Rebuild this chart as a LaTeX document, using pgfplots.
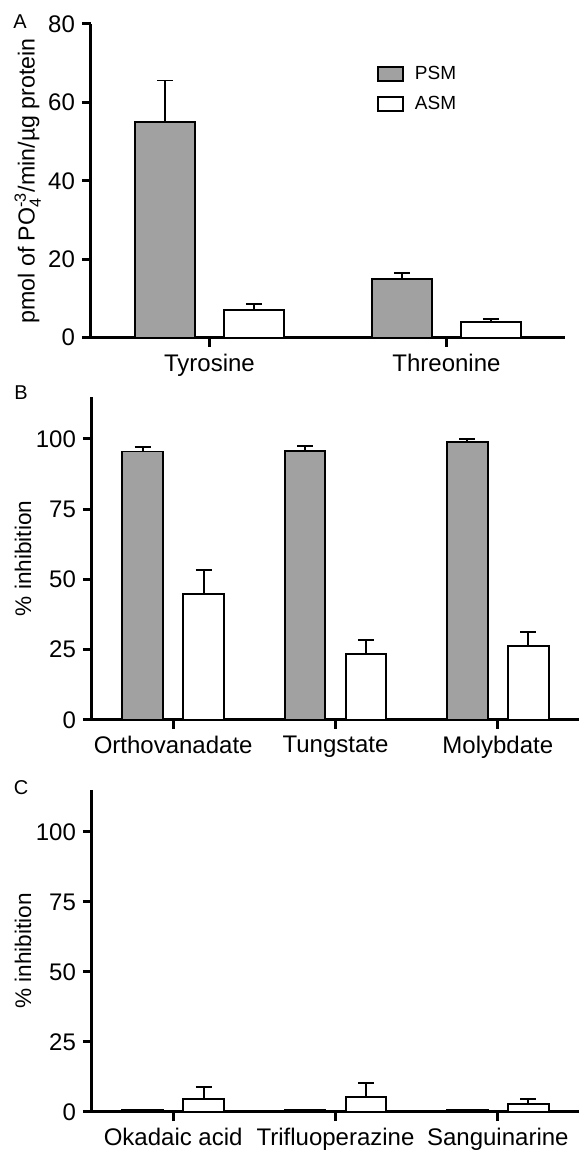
\documentclass[border=0pt]{standalone}
\usepackage{fontspec}
\setmainfont{Liberation Sans}
\usepackage{amsmath}
\usepackage{pgfplots}
\pgfplotsset{compat=1.18}

\definecolor{psmgray}{gray}{0.63}

\pgfplotsset{
  panel/.style={
    scale only axis,
    anchor=south west,
    axis x line*=bottom, axis y line*=left,
    axis line style={line width=1.5pt},
    major tick style={line width=1.5pt, black},
    major tick length=4.5pt,
    tick align=outside,
    minor tick num=0,
    xmin=-0.5, ymin=0,
    ticklabel style={font=\fontsize{12}{14}\selectfont},
    /pgf/number format/assume math mode=true,
    ylabel style={at={(axis description cs:#1,0.5)}, anchor=center},
  },
  % bars are drawn at their own x (category -/+ 0.1875), so the error bars sit on them
  barbase/.style={ybar, bar width=0.25, bar shift=0pt, draw=black, line width=0.95pt,
    error bars/y dir=plus, error bars/y explicit,
    error bars/error bar style={line width=0.95pt, black},
    error bars/error mark options={rotate=90, mark size=4pt, line width=0.95pt, black}},
  psm/.style={barbase, fill=psmgray},
  asm/.style={barbase, fill=white},
  legend image code/.code={\draw[#1, line width=0.85pt] (0pt,-3.5pt) rectangle (12.5pt,3.5pt);},
}

\begin{document}
\begin{tikzpicture}
\useasboundingbox (0,0) rectangle (289.5pt,576.5pt);

% panel A
\begin{axis}[panel=-0.1335,
  at={(45.5pt,407.65pt)}, width=237pt, height=156.85pt,
  xmax=1.5, ymax=80,
  xtick={0,1}, xticklabels={Tyrosine,Threonine},
  ytick={0,20,40,60,80},
  ylabel={pmol of PO$_{\text{4}}^{\text{-3}}$/min/µg protein},
  ylabel style={font=\fontsize{11.6}{14}\selectfont},
  legend style={at={(rel axis cs:0.603,0.88)}, anchor=north west,
    draw=none, fill=none, inner sep=0pt, row sep=2.8pt,
    font=\fontsize{9.5}{11}\selectfont,
    /tikz/every odd column/.append style={column sep=3.5pt}},
  legend cell align=left]
\addplot[psm] coordinates {(-0.1875,55.0) +- (0,10.6) (0.8125,14.9) +- (0,1.5)};
\addlegendentry{PSM}
\addplot[asm] coordinates {(0.1875,7.1) +- (0,1.6) (1.1875,4.1) +- (0,0.6)};
\addlegendentry{ASM}
\end{axis}

% panel B
\begin{axis}[panel=-0.1417,
  at={(46pt,216.5pt)}, width=243.5pt, height=161.65pt,
  xmax=2.5, ymax=115,
  xtick={0,1,2}, xticklabels={Orthovanadate,Tungstate,Molybdate},
  ytick={0,25,50,75,100},
  ylabel={\% inhibition},
  ylabel style={font=\fontsize{11.3}{13}\selectfont}]
\addplot[psm] coordinates {(-0.1875,95.5) +- (0,1.6) (0.8125,95.7) +- (0,1.8) (1.8125,99.0) +- (0,0.8)};
\addplot[asm] coordinates {(0.1875,44.9) +- (0,8.4) (1.1875,23.4) +- (0,4.9) (2.1875,26.2) +- (0,5.0)};
\end{axis}

% panel C
\begin{axis}[panel=-0.1417,
  at={(46pt,20.5pt)}, width=243.5pt, height=161pt,
  xmax=2.5, ymax=115,
  xtick={0,1,2}, xticklabels={Okadaic acid,Trifluoperazine,Sanguinarine},
  ytick={0,25,50,75,100},
  ylabel={\% inhibition},
  ylabel style={font=\fontsize{11.3}{13}\selectfont}]
\addplot[ybar, bar width=0.25, bar shift=0pt, draw=black, line width=0.95pt, fill=psmgray]
  coordinates {(-0.1875,0.7) (0.8125,0.7) (1.8125,0.7)};
\addplot[asm] coordinates {(0.1875,4.7) +- (0,4.1) (1.1875,5.5) +- (0,4.7) (2.1875,2.9) +- (0,1.7)};
\end{axis}

\node[font=\fontsize{10}{12}\selectfont] at (10pt,565.5pt) {A};
\node[font=\fontsize{10}{12}\selectfont] at (10.5pt,380pt) {B};
\node[font=\fontsize{10}{12}\selectfont] at (10.5pt,182.5pt) {C};
\end{tikzpicture}
\end{document}
